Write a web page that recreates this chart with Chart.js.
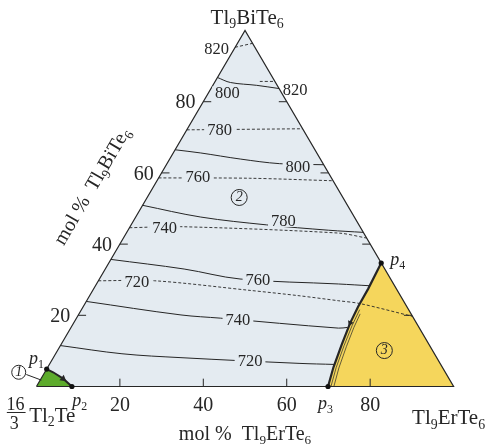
<!DOCTYPE html>
<html>
<head>
<meta charset="utf-8">
<script src="https://cdn.jsdelivr.net/npm/chart.js@4.4.1/dist/chart.umd.min.js"></script>
<style>
  html, body { margin: 0; padding: 0; background: #fff; }
  canvas { display: block; }
</style>
</head>
<body>
<canvas id="phase" width="493" height="446"></canvas>
<script>
// compositions are [mol % Tl9ErTe6, mol % Tl9BiTe6]; the rest is 16/3 Tl2Te
const tickValues = [20, 40, 60, 80]
const corners = [[0, 0], [100, 0], [0, 100]]

// liquidus isotherms (solid lines)
const liquidusTemps = [820, 800, 780, 760, 740, 720]
const liquidus = [
  [[0, 86.8], [3.8, 85.4], [10.5, 84.6], [16.3, 83.7]],
  [[0, 66.5], [6.6, 65.6], [16.9, 63.9], [27.0, 62.6], [37.7, 62.3]],
  [[0, 50.9], [15.6, 47.6], [32.5, 45.4], [48.1, 43.9], [56.7, 43.3]],
  [[0, 35.7], [18.9, 33.0], [33.7, 30.2], [58.0, 28.8], [65.8, 28.3]],
  [[0, 23.9], [24.6, 20.1], [34.5, 19.2], [64.2, 16.4], [66.3, 16.6]],
  [[0, 11.5], [15.9, 9.2], [30.6, 8.1], [59.7, 6.5], [68.3, 6.2]]
]

// solidus isotherms (dashed lines)
const solidusTemps = [820, 800, 780, 760, 740, 720]
const solidus = [
  [[0, 95.3], [3.6, 96.4]],
  [[10.7, 85.7], [14.3, 85.7]],
  [[0, 72.1], [27.6, 72.4]],
  [[0, 58.6], [21.9, 58.5], [42.2, 57.8]],
  [[0, 44.6], [12.1, 44.9], [50.9, 43.1], [58.3, 41.7]],
  [[0, 29.7], [13.5, 29.7], [37.7, 27.0], [50.2, 25.5], [60.3, 24.1], [65.9, 23.3], [80.3, 19.7]]
]

// monovariant curves
const curveP1P2 = [[0, 4.9], [2.0, 4.0], [5.3, 2.2], [8.5, 0]]
const curveP3P4 = [[69.9, 0], [68.5, 5.4], [67.3, 11.8], [66.3, 17.8], [65.9, 22.4], [65.8, 27.5], [65.3, 34.7]]
const curveP3P4b = [[70.6, 0], [69.2, 5.3], [68.0, 11.5], [67.1, 17.2], [66.7, 21.6]]
const curveP3P4c = [[71.3, 0], [69.9, 5.2], [68.7, 11.2], [67.8, 16.6], [67.4, 20.4]]

const pointNames = ['1', '2', '3', '4']
const pointComps = [[0, 4.9], [8.5, 0], [69.9, 0], [65.3, 34.7]]

const ink = '#262626'
const fieldBlue = '#e4ebf1'
const yellow = '#f5d65c'
const green = '#5dab2c'
const serif = '"Liberation Serif", "Times New Roman", serif'

const toXY = ([er, bi]) => ({ x: er + bi / 2, y: bi })

function line(pts, extra) {
  return Object.assign({
    data: pts.map(toXY),
    borderColor: ink,
    borderWidth: 1,
    pointRadius: 0,
    fill: false,
    tension: 0
  }, extra)
}

const datasets = []

// phase fields
datasets.push(line([[0, 0], [0, 100], [100, 0]], { fill: 'origin', backgroundColor: fieldBlue, borderWidth: 0, order: 100 }))
datasets.push(line(curveP3P4.concat([[100, 0]]), { fill: 'origin', backgroundColor: yellow, borderWidth: 0, order: 90 }))
datasets.push(line([[0, 0]].concat(curveP1P2), { fill: 'origin', backgroundColor: green, borderWidth: 0, order: 90 }))

liquidus.forEach(pts => datasets.push(line(pts, { borderWidth: 1, tension: 0.35, order: 50 })))
solidus.forEach(pts => datasets.push(line(pts, { borderWidth: 0.9, borderDash: [3, 2], tension: 0.3, order: 50 })))

datasets.push(line(curveP3P4b, { borderWidth: 0.7, order: 45 }))
datasets.push(line(curveP3P4c, { borderWidth: 0.7, order: 45 }))
datasets.push(line(curveP3P4, { borderWidth: 2.2, order: 40 }))
datasets.push(line(curveP1P2, { borderWidth: 2, order: 40 }))

// triangle outline
datasets.push(line(corners.concat([[0, 0]]), { borderWidth: 1.2, borderJoinStyle: 'miter', order: 30 }))

// inner ticks on the three sides
tickValues.forEach(t => {
  datasets.push(line([[t, 0], [t - 1.1, 2.2]], { order: 30 }))
  datasets.push(line([[0, t], [1.9, t]], { order: 30 }))
  datasets.push(line([[100 - t, t], [98.1 - t, t]], { order: 30 }))
})

// direction arrows on the curves
datasets.push({
  data: [curveP1P2[2], curveP3P4[3]].map(toXY),
  showLine: false,
  pointStyle: 'triangle',
  pointRadius: [4, 3.5],
  rotation: [128, 203],
  pointBackgroundColor: ink,
  pointBorderColor: ink,
  pointBorderWidth: 0,
  order: 20
})

// invariant points
datasets.push({
  data: pointComps.map(toXY),
  showLine: false,
  pointRadius: 2.6,
  pointBackgroundColor: '#111',
  pointBorderColor: '#111',
  pointBorderWidth: 0,
  order: 10
})

function drawRich(ctx, parts, cx, cy, size, align) {
  const fontOf = p => `${p[2] ? 'italic ' : ''}${p[1] ? size * 0.66 : size}px ${serif}`
  const widths = parts.map(p => { ctx.font = fontOf(p); return ctx.measureText(p[0]).width })
  const total = widths.reduce((a, b) => a + b, 0)
  let x = align === 'left' ? cx : align === 'right' ? cx - total : cx - total / 2
  const base = cy + size * 0.33
  ctx.textAlign = 'left'
  ctx.textBaseline = 'alphabetic'
  parts.forEach((p, i) => {
    ctx.font = fontOf(p)
    ctx.fillText(p[0], x, base + (p[1] ? size * 0.22 : 0))
    x += widths[i]
  })
  return total
}

const annotate = {
  id: 'annotate',
  afterDatasetsDraw(chart) {
    const { ctx } = chart
    const sx = chart.scales.x, sy = chart.scales.y
    const P = (X, Y) => [sx.getPixelForValue(X), sy.getPixelForValue(Y)]
    ctx.save()
    ctx.fillStyle = ink
    ctx.strokeStyle = ink

    // isotherm labels
    const isoLabels = [
      [solidusTemps[0], 43.2, 95.0, false],
      [liquidusTemps[0], 62.0, 83.4, false],
      [solidusTemps[1], 45.8, 82.6, true],
      [solidusTemps[2], 43.9, 72.1, true],
      [liquidusTemps[1], 62.7, 61.9, true],
      [solidusTemps[3], 38.7, 59.0, true],
      [liquidusTemps[2], 59.2, 46.5, true],
      [solidusTemps[4], 30.7, 44.6, true],
      [liquidusTemps[3], 53.1, 30.1, true],
      [solidusTemps[5], 24.1, 29.4, true],
      [liquidusTemps[4], 48.3, 18.8, true],
      [liquidusTemps[5], 51.2, 7.4, true]
    ]
    ctx.font = `16.5px ${serif}`
    isoLabels.forEach(([t, X, Y, bg]) => {
      const [x, y] = P(X, Y)
      const w = ctx.measureText(String(t)).width
      if (bg) {
        ctx.fillStyle = fieldBlue
        ctx.fillRect(x - w / 2 - 3, y - 6, w + 6, 12)
      }
      ctx.fillStyle = ink
      drawRich(ctx, [[String(t)]], x, y, 16.5, 'center')
      ctx.font = `16.5px ${serif}`
    })

    // tick labels
    tickValues.forEach(t => {
      const [bx, by] = P(t, -5.0)
      drawRich(ctx, [[String(t)]], bx, by, 20, 'center')
      const [lx, ly] = P(t / 2 - 1.9, t)
      drawRich(ctx, [[String(t)]], lx, ly, 20, 'right')
    })

    // vertex and axis titles
    let [x, y] = P(50.5, 103.9)
    drawRich(ctx, [['Tl'], ['9', 1], ['BiTe'], ['6', 1]], x, y, 21, 'center');
    [x, y] = P(98.8, -8.7)
    drawRich(ctx, [['Tl'], ['9', 1], ['ErTe'], ['6', 1]], x, y, 21, 'center');
    [x, y] = P(50.0, -13.1)
    drawRich(ctx, [['mol %  Tl'], ['9', 1], ['ErTe'], ['6', 1]], x, y, 20, 'center');
    [x, y] = P(3.8, -7.9)
    drawRich(ctx, [['Tl'], ['2', 1], ['Te']], x, y, 21, 'center')

    // 16/3 fraction
    ;[x, y] = P(-5.0, -5.0)
    drawRich(ctx, [['16']], x, y, 18, 'center')
    ;[x, y] = P(-5.3, -10.3)
    drawRich(ctx, [['3']], x, y, 18, 'center')
    const [fx1, fy] = P(-7.1, -7.3)
    const [fx2] = P(-2.6, -7.3)
    ctx.lineWidth = 1
    ctx.beginPath(); ctx.moveTo(fx1, fy); ctx.lineTo(fx2, fy); ctx.stroke()

    // rotated left axis title
    const [ax0, ay0] = P(0, 0), [ax1, ay1] = P(50, 100)
    const ang = Math.atan2(ay1 - ay0, ax1 - ax0)
    ;[x, y] = P(13.2, 56.4)
    ctx.save()
    ctx.translate(x, y)
    ctx.rotate(ang)
    drawRich(ctx, [['mol %  Tl'], ['9', 1], ['BiTe'], ['6', 1]], 0, 0, 20, 'center')
    ctx.restore()

    // invariant point names
    const pLabels = [[0, 8.1], [10.4, -3.7], [69.3, -4.6], [86.6, 35.7]]
    pLabels.forEach(([X, Y], i) => {
      const [px, py] = P(X, Y)
      drawRich(ctx, [['p', 0, 1], [pointNames[i], 1]], px, py, 18, 'center')
    })

    // field numbers in circles
    const fields = [['1', -4.25, 4.0, 7], ['2', 48.6, 53.1, 8], ['3', 83.4, 10.1, 8]]
    ctx.lineWidth = 1
    fields.forEach(([n, X, Y, r]) => {
      const [cx, cy] = P(X, Y)
      ctx.beginPath(); ctx.arc(cx, cy, r, 0, Math.PI * 2); ctx.stroke()
      drawRich(ctx, [[n, 0, 1]], cx, cy - 1, 14, 'center')
    })
    const [l1x, l1y] = P(-2.43, 3.37), [l2x, l2y] = P(1.18, 1.79)
    ctx.beginPath(); ctx.moveTo(l1x, l1y); ctx.lineTo(l2x, l2y); ctx.stroke()

    ctx.restore()
  }
}

new Chart(document.getElementById('phase'), {
  type: 'line',
  data: { datasets },
  options: {
    responsive: false,
    animation: false,
    events: [],
    layout: { padding: 0 },
    plugins: { legend: { display: false }, tooltip: { enabled: false } },
    scales: {
      x: { type: 'linear', display: false, min: -7.78, max: 108.49 },
      y: { type: 'linear', display: false, min: -15.59, max: 107.45 }
    }
  },
  plugins: [annotate]
})
</script>
</body>
</html>
